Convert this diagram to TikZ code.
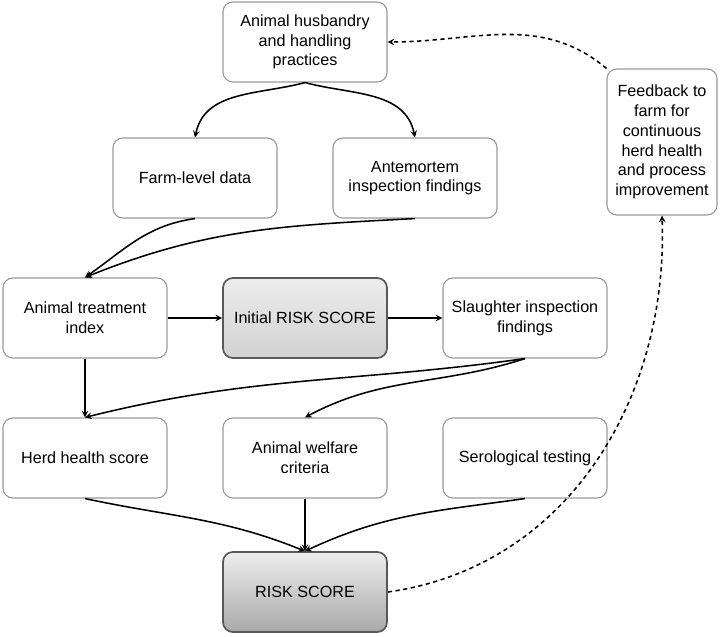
\documentclass[tikz,border=0pt]{standalone}
\usepackage{fontspec}
\setmainfont{Liberation Sans}
\usepackage{tikz}
\usetikzlibrary{calc, arrows}
\definecolor{sgrey}{HTML}{9A9A9A}
\definecolor{slight}{HTML}{EDEDED}
\definecolor{sdark}{HTML}{A9A9A9}

\begin{document}
\begin{tikzpicture}[x=0.025cm, y=0.025cm,
    BOX/.style={draw=sgrey, thick, rectangle, rounded corners=7pt, minimum width=4.1cm, minimum height=2cm, align=center, font=\fontsize{11.5}{14}\selectfont},
    RBOX/.style={BOX, draw=black!65, very thick, top color=slight, bottom color=sdark},
    IBOX/.style={BOX, draw=black!65, very thick, top color=slight, bottom color=black!18},
    LNK/.style={line width=1.1pt, ->, >=stealth},
    FB/.style={line width=1.1pt, ->, >=stealth, dash pattern=on 3pt off 2.5pt}
    ]
        \useasboundingbox (0,0) rectangle (720,636);
        \node[BOX] (hus) at (305,594) {Animal husbandry\\and handling\\practices};
        \node[BOX] (farm) at (195,458) {Farm-level data};
        \node[BOX] (ante) at (415,458) {Antemortem\\inspection findings};
        \node[BOX, minimum width=2.75cm, minimum height=3.65cm] (feed) at (662,494) {Feedback to\\farm for\\continuous\\herd health\\and process\\improvement};
        \node[BOX] (ati) at (85,318) {Animal treatment\\index};
        \node[IBOX] (init) at (305,318) {Initial RISK SCORE};
        \node[BOX] (slau) at (525,318) {Slaughter inspection\\findings};
        \node[BOX] (herd) at (85,178) {Herd health score};
        \node[BOX] (welf) at (305,178) {Animal welfare\\criteria};
        \node[BOX] (sero) at (525,178) {Serological testing};
        \node[RBOX] (risk) at (305,44) {RISK SCORE};
        % top part
        \draw[LNK] (hus.south) to[out=195,in=78] (farm.north);
        \draw[LNK] (hus.south) to[out=-15,in=102] (ante.north);
        \draw[LNK] (farm.south) to[out=188,in=35] (ati.north);
        \draw[LNK] (ante.south) to[out=183,in=22] (ati.north);
        % middle row
        \draw[LNK] (ati.east) -- (init.west);
        \draw[LNK] (init.east) -- (slau.west);
        \draw[LNK] (ati.south) -- (herd.north);
        \draw[LNK] (slau.south) to[out=188,in=14] (herd.north);
        \draw[LNK] (slau.south) to[out=198,in=28] (welf.north);
        % bottom row
        \draw[LNK] (herd.south) to[out=-12,in=158] (risk.north);
        \draw[LNK] (welf.south) -- (risk.north);
        \draw[LNK] (sero.south) to[out=188,in=25] (risk.north);
        % feedback loop
        \draw[FB] (risk.east) to[out=8,in=-88] (feed.south);
        \draw[FB] (feed.north west) to[out=140,in=0] (hus.east);
    \end{tikzpicture}
\end{document}
